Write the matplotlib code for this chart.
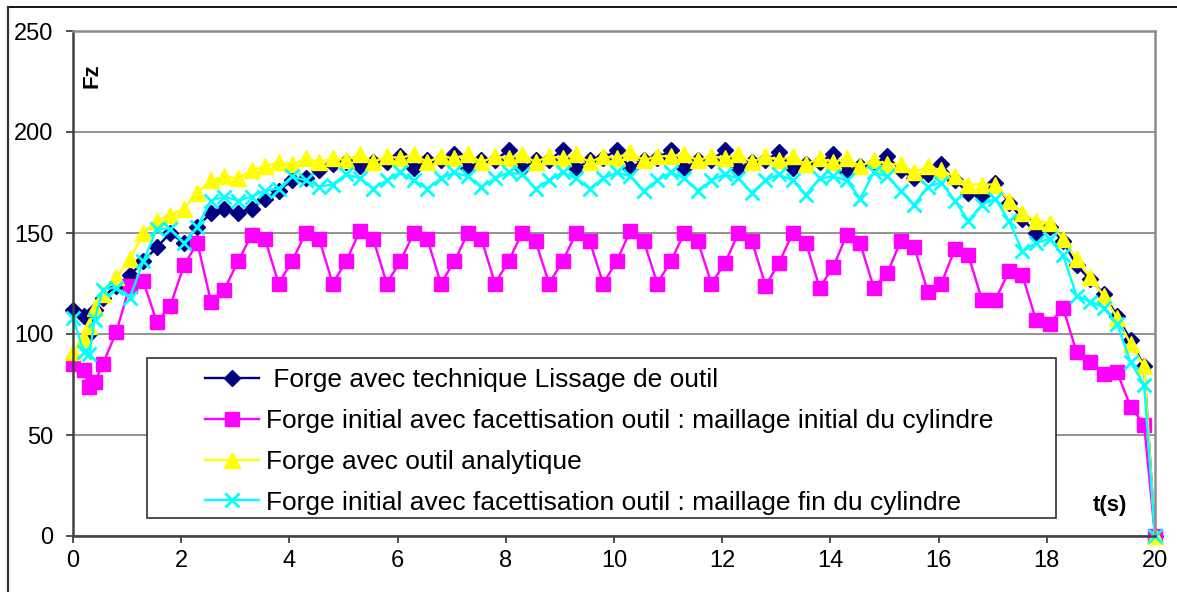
import matplotlib
matplotlib.use("Agg")
import matplotlib.pyplot as plt
from matplotlib.lines import Line2D
from matplotlib.patches import Rectangle

plt.rcParams['font.family'] = ['Liberation Sans', 'DejaVu Sans']

# temps (s) : pas plus fin au tout début, puis un point tous les 0.25 s
t = [0, 0.2, 0.3, 0.4, 0.55, 0.8,
     1.05, 1.3, 1.55, 1.8, 2.05, 2.3, 2.55, 2.8, 3.05, 3.3, 3.55, 3.8,
     4.05, 4.3, 4.55, 4.8, 5.05, 5.3, 5.55, 5.8, 6.05, 6.3, 6.55, 6.8,
     7.05, 7.3, 7.55, 7.8, 8.05, 8.3, 8.55, 8.8, 9.05, 9.3, 9.55, 9.8,
     10.05, 10.3, 10.55, 10.8, 11.05, 11.3, 11.55, 11.8, 12.05, 12.3, 12.55, 12.8,
     13.05, 13.3, 13.55, 13.8, 14.05, 14.3, 14.55, 14.8, 15.05, 15.3, 15.55, 15.8,
     16.05, 16.3, 16.55, 16.8, 17.05, 17.3, 17.55, 17.8, 18.05, 18.3, 18.55, 18.8,
     19.05, 19.3, 19.55, 19.8, 20]

# Forge avec technique Lissage de outil
fz_lissage = [112, 109, 100, 112, 118, 124,
              129, 136, 143, 150, 145, 153, 160, 162, 160, 162, 167, 171,
              176, 177, 181, 184, 185, 183, 185, 185, 188, 182, 186, 186,
              189, 182, 186, 186, 191, 182, 186, 186, 191, 182, 186, 187,
              191, 182, 186, 187, 191, 182, 186, 186, 191, 182, 185, 186,
              190, 182, 184, 185, 189, 180, 183, 184, 188, 181, 177, 179,
              184, 176, 170, 169, 175, 165, 157, 150, 153, 146, 134, 127,
              120, 109, 97, 84, 0]

# Forge initial, facettisation outil, maillage initial
fz_facette_init = [85, 82, 74, 76, 85, 101,
                   124, 126, 106, 114, 134, 145, 116, 122, 136, 149, 147, 125,
                   136, 150, 147, 125, 136, 151, 147, 125, 136, 150, 147, 125,
                   136, 150, 147, 125, 136, 150, 146, 125, 136, 150, 146, 125,
                   136, 151, 146, 125, 136, 150, 146, 125, 135, 150, 146, 124,
                   135, 150, 145, 123, 133, 149, 145, 123, 130, 146, 143, 121,
                   125, 142, 139, 117, 117, 131, 129, 107, 105, 113, 91, 86,
                   80, 81, 64, 55, 0]

# Forge avec outil analytique
fz_analytique = [91, 98, 104, 113, 120, 128,
                 137, 150, 156, 159, 162, 170, 176, 178, 177, 181, 183, 185,
                 184, 187, 185, 187, 186, 189, 185, 188, 187, 189, 185, 188,
                 187, 189, 185, 188, 187, 189, 185, 188, 187, 189, 185, 188,
                 187, 190, 186, 188, 188, 189, 186, 188, 187, 189, 185, 188,
                 186, 188, 184, 187, 185, 187, 183, 186, 184, 184, 180, 183,
                 181, 178, 174, 174, 174, 166, 160, 156, 155, 147, 137, 128,
                 119, 108, 95, 84, 0]

# Forge initial, facettisation outil, maillage fin
fz_facette_fin = [108, 91, 90, 107, 122, 123,
                  118, 136, 152, 152, 145, 153, 166, 168, 166, 168, 171, 172,
                  178, 176, 173, 174, 179, 177, 172, 176, 180, 176, 172, 177,
                  180, 178, 173, 177, 180, 179, 172, 176, 180, 177, 172, 177,
                  180, 178, 171, 176, 180, 177, 171, 176, 179, 177, 170, 176,
                  179, 176, 169, 177, 178, 176, 167, 180, 178, 171, 164, 173,
                  175, 166, 156, 164, 167, 156, 141, 145, 147, 139, 119, 116,
                  113, 105, 86, 75, 0]

labels = [" Forge avec technique Lissage de outil",
          "Forge initial avec facettisation outil : maillage initial du cylindre",
          "Forge avec outil analytique",
          "Forge initial avec facettisation outil : maillage fin du cylindre"]

W, H = 1177, 592
fig = plt.figure(figsize=(W / 100, H / 100), dpi=100)
ax = fig.add_axes([73 / W, 1 - 536 / H, (1155 - 73) / W, (536 - 31) / H])

l1, = ax.plot(t, fz_lissage, color='#000080', lw=1.7, marker='D', ms=8.5, clip_on=False)
l2, = ax.plot(t, fz_facette_init, color='#FF00FF', lw=1.7, marker='s', ms=10, clip_on=False)
l3, = ax.plot(t, fz_analytique, color='#FFFF00', lw=1.7, marker='^', ms=11, clip_on=False)
l4, = ax.plot(t, fz_facette_fin, color='#00FFFF', lw=1.7, marker='x', ms=10, mew=2, clip_on=False)

ax.set_xlim(0, 20)
ax.set_ylim(0, 250)
ax.set_xticks(range(0, 21, 2))
ax.set_yticks(range(0, 251, 50))
ax.tick_params(axis='both', labelsize=17, direction='out', length=5, width=1.2, color='#333333')
ax.tick_params(axis='x', pad=5)
ax.tick_params(axis='y', pad=9)
ax.yaxis.grid(True, color='#808080', lw=1.2)
ax.set_axisbelow(True)
for side in ['left', 'bottom']:
    ax.spines[side].set_color('#404040')
    ax.spines[side].set_linewidth(1.8)
for side in ['top', 'right']:
    ax.spines[side].set_color('#8c8c8c')
    ax.spines[side].set_linewidth(1.8)

ax.text(0.35, 228, 'Fz', rotation=90, ha='center', va='center', fontsize=16, fontweight='bold')
ax.text(19.17, 15, 't(s)', ha='center', va='center', fontsize=16, fontweight='bold')

# cadre blanc de la légende, par-dessus les courbes
box = Rectangle((147 / W, 1 - 518 / H), (1056 - 147) / W, (518 - 358) / H,
                transform=fig.transFigure, facecolor='white', edgecolor='#303030', lw=1.2, zorder=3)
fig.add_artist(box)
leg = fig.legend([l1, l2, l3, l4], labels, loc='upper left',
                 bbox_to_anchor=(205 / W, 1 - 368 / H), bbox_transform=fig.transFigure,
                 frameon=False, fontsize=19, handlelength=2.05, handletextpad=0.27,
                 labelspacing=0.64, borderpad=0, borderaxespad=0)
leg.set_zorder(5)

# bord du cadre extérieur du graphique
fig.add_artist(Line2D([8 / W, 1], [1 - 7 / H, 1 - 7 / H], transform=fig.transFigure, color='black', lw=1.3))
fig.add_artist(Line2D([8 / W, 8 / W], [0, 1 - 7 / H], transform=fig.transFigure, color='#333333', lw=1.6))

fig.savefig("out.png", dpi=100)
